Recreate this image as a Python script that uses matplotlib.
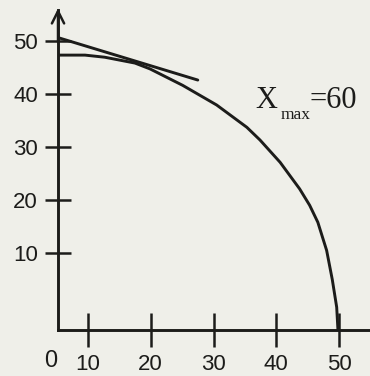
import matplotlib
matplotlib.use("Agg")
import matplotlib.pyplot as plt

# curve points (x, y) read along the boundary
curve_x = [5.26, 9.55, 12.7, 17.5, 19.9, 25.1, 30.5, 35.3, 37.4, 40.6,
           43.7, 45.3, 46.6, 48.0, 48.9, 49.6, 49.8]
curve_y = [47.3, 47.3, 46.9, 45.8, 44.7, 41.6, 37.9, 33.7, 31.3, 27.1,
           22.1, 19.0, 15.8, 10.5, 5.0, -0.2, -4.5]

# tangent line near the top
tan_x = [5.26, 27.5]
tan_y = [50.6, 42.6]

xticks = [10, 20, 30, 40, 50]
yticks = [10, 20, 30, 40, 50]
label_main = "X"
label_sub = "max"
label_val = "=60"

bg = "#efefe9"
ink = "#1c1c1a"

fig = plt.figure(figsize=(3.7, 3.76), dpi=100, facecolor=bg)
ax = fig.add_axes([0.1568, 0.1223, 1 - 0.1568, 0.9734 - 0.1223], facecolor=bg)

ax.plot(curve_x, curve_y, color=ink, lw=2.1, solid_joinstyle="round")
ax.plot(tan_x, tan_y, color=ink, lw=2.1, solid_capstyle="round")

ax.set_xlim(5.26, 54.9)
ax.set_ylim(-4.5, 55.8)

for s in ["top", "right"]:
    ax.spines[s].set_visible(False)
for s in ["left", "bottom"]:
    ax.spines[s].set_linewidth(2.1)
    ax.spines[s].set_color(ink)

ax.set_xticks(xticks)
ax.set_yticks(yticks)
ax.tick_params(axis="y", direction="inout", length=19, width=1.8, pad=5,
               labelsize=16, colors=ink)
ax.tick_params(axis="x", direction="inout", length=24, width=1.8, pad=5,
               labelsize=16, colors=ink)
for lab in ax.get_xticklabels() + ax.get_yticklabels():
    lab.set_family("Liberation Sans")

# origin label
ax.text(-0.025, -0.097, "0", transform=ax.transAxes, ha="center", va="center",
        fontsize=17, family="Liberation Sans", color=ink)

# arrow on the vertical axis
ax.annotate("", xy=(0, 1.005), xycoords="axes fraction", xytext=(0, 0.9),
            arrowprops=dict(arrowstyle="->", lw=1.8, color=ink, mutation_scale=22,
                            shrinkA=0, shrinkB=0))

ax.text(36.6, 37.3, label_main, fontsize=22, family="Liberation Serif",
        va="baseline", ha="left", color=ink)
ax.text(40.7, 35.2, label_sub, fontsize=12.5, family="Liberation Serif",
        va="baseline", ha="left", color=ink)
ax.text(45.2, 37.3, label_val, fontsize=22, family="Liberation Serif",
        va="baseline", ha="left", color=ink)

fig.savefig("out.png", dpi=100, facecolor=bg)
